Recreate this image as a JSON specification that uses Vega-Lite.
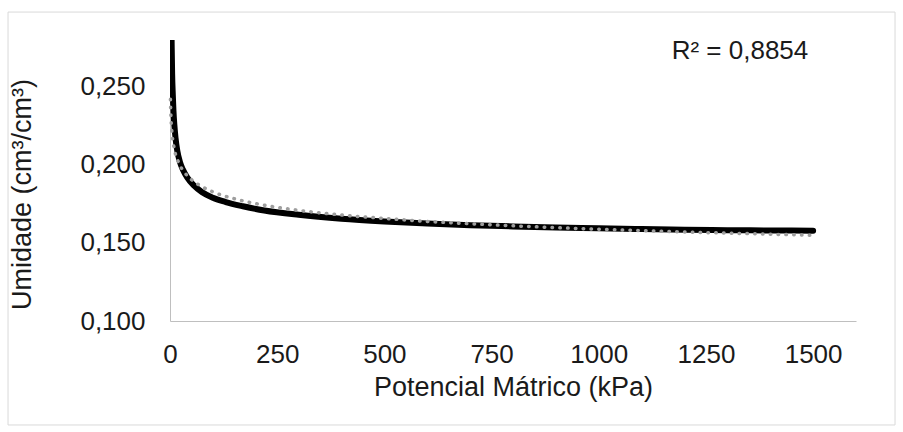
{
  "$schema": "https://vega.github.io/schema/vega-lite/v6.json",
  "width": 686,
  "height": 281,
  "autosize": {"type": "none"},
  "padding": {"left": 170, "top": 40, "right": 47, "bottom": 111},
  "background": "white",
  "config": {
    "view": {"stroke": null},
    "font": "Liberation Sans",
    "locale": {"number": {"decimal": ",", "thousands": ".", "grouping": [3], "currency": ["", ""]}},
    "axis": {
      "grid": false,
      "ticks": false,
      "tickSize": 0,
      "labelFlush": false,
      "labelOverlap": false,
      "domainColor": "#bfbfbf",
      "domainWidth": 1,
      "labelFont": "Liberation Sans",
      "labelFontSize": 26,
      "labelColor": "#1a1a1a",
      "titleFont": "Liberation Sans",
      "titleFontSize": 27,
      "titleFontWeight": "normal",
      "titleColor": "#1a1a1a"
    },
    "axisX": {"labelPadding": 20, "titlePadding": 7},
    "axisY": {"labelPadding": 25, "titlePadding": 43, "titleY": 154}
  },
  "datasets": {
    "curva": [
      {"kPa": 3, "umidade": 0.295},
      {"kPa": 4, "umidade": 0.275},
      {"kPa": 5, "umidade": 0.258},
      {"kPa": 6.5, "umidade": 0.245},
      {"kPa": 8, "umidade": 0.235},
      {"kPa": 10, "umidade": 0.226},
      {"kPa": 13, "umidade": 0.217},
      {"kPa": 17, "umidade": 0.209},
      {"kPa": 23, "umidade": 0.202},
      {"kPa": 30, "umidade": 0.197},
      {"kPa": 40, "umidade": 0.192},
      {"kPa": 55, "umidade": 0.187},
      {"kPa": 75, "umidade": 0.1825},
      {"kPa": 100, "umidade": 0.179},
      {"kPa": 130, "umidade": 0.1762},
      {"kPa": 170, "umidade": 0.1735},
      {"kPa": 220, "umidade": 0.1708},
      {"kPa": 300, "umidade": 0.168},
      {"kPa": 400, "umidade": 0.1655},
      {"kPa": 500, "umidade": 0.1638},
      {"kPa": 600, "umidade": 0.1625},
      {"kPa": 700, "umidade": 0.1614},
      {"kPa": 800, "umidade": 0.1606},
      {"kPa": 900, "umidade": 0.1599},
      {"kPa": 1000, "umidade": 0.1594},
      {"kPa": 1100, "umidade": 0.1589},
      {"kPa": 1200, "umidade": 0.1585},
      {"kPa": 1300, "umidade": 0.1582},
      {"kPa": 1400, "umidade": 0.158},
      {"kPa": 1500, "umidade": 0.1578}
    ],
    "tendencia": [
      {"kPa": 1, "umidade": 0.242},
      {"kPa": 2, "umidade": 0.232},
      {"kPa": 3, "umidade": 0.2263},
      {"kPa": 5, "umidade": 0.2194},
      {"kPa": 10, "umidade": 0.2103},
      {"kPa": 20, "umidade": 0.2016},
      {"kPa": 35, "umidade": 0.1948},
      {"kPa": 50, "umidade": 0.1906},
      {"kPa": 75, "umidade": 0.186},
      {"kPa": 100, "umidade": 0.1827},
      {"kPa": 150, "umidade": 0.1783},
      {"kPa": 200, "umidade": 0.1752},
      {"kPa": 300, "umidade": 0.1709},
      {"kPa": 400, "umidade": 0.1679},
      {"kPa": 500, "umidade": 0.1657},
      {"kPa": 600, "umidade": 0.1638},
      {"kPa": 700, "umidade": 0.1623},
      {"kPa": 800, "umidade": 0.161},
      {"kPa": 900, "umidade": 0.1598},
      {"kPa": 1000, "umidade": 0.1588},
      {"kPa": 1100, "umidade": 0.1579},
      {"kPa": 1200, "umidade": 0.157},
      {"kPa": 1300, "umidade": 0.1563},
      {"kPa": 1400, "umidade": 0.1556},
      {"kPa": 1500, "umidade": 0.1549}
    ],
    "r2": [{"rotulo": "R² = 0,8854"}]
  },
  "layer": [
    {
      "data": {"name": "r2"},
      "mark": {"type": "rect", "fillOpacity": 0, "stroke": "#d9d9d9", "strokeWidth": 1},
      "encoding": {
        "x": {"datum": -377.8, "type": "quantitative", "title": "Potencial Mátrico (kPa)"},
        "x2": {"datum": 1691},
        "y": {"datum": 0.2979, "type": "quantitative", "title": "Umidade (cm³/cm³)"},
        "y2": {"datum": 0.0334}
      }
    },
    {
      "data": {"name": "curva"},
      "mark": {"type": "line", "color": "#000000", "strokeWidth": 6, "strokeCap": "round", "strokeJoin": "round", "interpolate": "monotone", "clip": true},
      "encoding": {
        "x": {
          "field": "kPa",
          "type": "quantitative",
          "title": "Potencial Mátrico (kPa)",
          "scale": {"domain": [0, 1600], "nice": false},
          "axis": {"values": [0, 250, 500, 750, 1000, 1250, 1500], "format": "d"}
        },
        "y": {
          "field": "umidade",
          "type": "quantitative",
          "title": "Umidade (cm³/cm³)",
          "scale": {"domain": [0.1, 0.28], "nice": false, "zero": false},
          "axis": {"values": [0.1, 0.15, 0.2, 0.25], "format": ".3f"}
        }
      }
    },
    {
      "data": {"name": "tendencia"},
      "mark": {"type": "line", "color": "#9e9e9e", "strokeWidth": 3.5, "strokeCap": "round", "strokeDash": [0.5, 7.3], "interpolate": "monotone"},
      "encoding": {
        "x": {"field": "kPa", "type": "quantitative", "title": "Potencial Mátrico (kPa)"},
        "y": {"field": "umidade", "type": "quantitative", "title": "Umidade (cm³/cm³)"}
      }
    },
    {
      "data": {"name": "r2"},
      "mark": {"type": "text", "align": "right", "baseline": "alphabetic", "fontSize": 26, "color": "#1a1a1a", "font": "Liberation Sans"},
      "encoding": {
        "x": {"datum": 1488.7, "type": "quantitative", "title": "Potencial Mátrico (kPa)"},
        "y": {"datum": 0.2676, "type": "quantitative", "title": "Umidade (cm³/cm³)"},
        "text": {"field": "rotulo"}
      }
    }
  ]
}
